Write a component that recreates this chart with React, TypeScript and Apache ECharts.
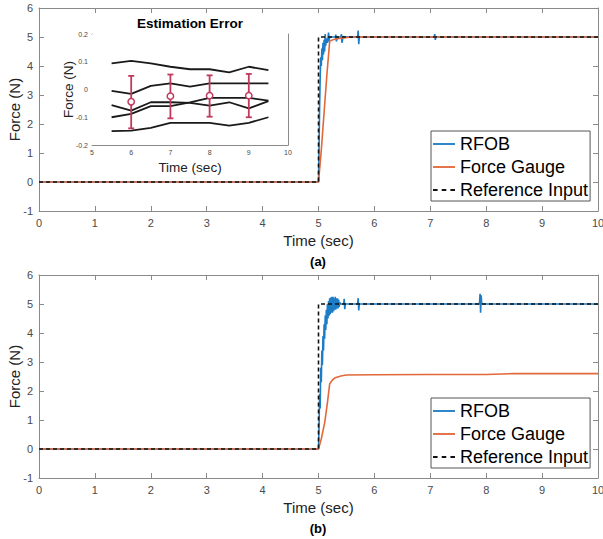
import React, { useEffect, useRef } from "react";
import * as echarts from "echarts";

// ---------- data (time in seconds, force in newtons) ----------
const referenceInput: [number, number][] = [
  [0, 0], [5, 0], [5, 5], [10, 5],
];

const rfobA: [number, number][] = [
  [0, 0], [5.0, 0], [5.01, 1.2], [5.02, 2.6], [5.03, 3.6], [5.04, 4.3], [5.05, 4.0],
  [5.06, 4.6], [5.07, 4.2], [5.08, 4.8], [5.09, 4.4], [5.1, 4.9], [5.11, 4.5],
  [5.12, 5.1], [5.13, 4.7], [5.14, 4.95], [5.16, 4.8], [5.18, 5.15], [5.19, 4.85],
  [5.2, 5.0], [5.3, 5.0], [5.31, 5.08], [5.32, 4.85], [5.34, 5.0], [5.4, 5.0],
  [5.41, 5.1], [5.42, 4.8], [5.44, 5.02], [5.46, 5.0], [5.7, 5.0], [5.71, 5.22],
  [5.72, 4.75], [5.73, 5.0], [7.07, 5.0], [7.08, 5.1], [7.09, 4.9], [7.1, 5.0], [10, 5.0],
];

const gaugeA: [number, number][] = [
  [0, 0], [5.0, 0], [5.05, 1.1], [5.1, 2.4], [5.15, 3.7], [5.2, 4.85], [5.25, 4.9],
  [5.3, 4.93], [5.4, 4.96], [5.6, 5.0], [10, 5.0],
];

const rfobB: [number, number][] = [
  [0, 0], [5.0, 0], [5.01, 0.8], [5.02, 1.9], [5.03, 1.4], [5.04, 2.8], [5.05, 2.3],
  [5.06, 3.4], [5.07, 2.9], [5.08, 3.9], [5.09, 3.4], [5.1, 4.3], [5.11, 3.8],
  [5.12, 4.6], [5.13, 4.1], [5.14, 4.8], [5.15, 4.3], [5.16, 5.0], [5.17, 4.5],
  [5.18, 5.1], [5.19, 4.6], [5.2, 5.2], [5.21, 4.65], [5.22, 5.22], [5.23, 4.7],
  [5.24, 5.25], [5.25, 4.7], [5.26, 5.25], [5.27, 4.75], [5.28, 5.2], [5.29, 4.8],
  [5.3, 5.25], [5.31, 4.8], [5.32, 5.2], [5.33, 4.85], [5.34, 5.2], [5.35, 4.85],
  [5.36, 5.15], [5.37, 4.9], [5.38, 5.05], [5.4, 5.0], [5.45, 5.0], [5.46, 5.18],
  [5.47, 4.82], [5.48, 5.0], [5.7, 5.0], [5.71, 5.2], [5.72, 4.78], [5.73, 5.0],
  [7.88, 5.0], [7.89, 5.35], [7.9, 4.7], [7.91, 5.3], [7.92, 5.0], [10, 5.0],
];

const gaugeB: [number, number][] = [
  [0, 0], [5.0, 0], [5.05, 0.35], [5.11, 0.9], [5.16, 1.6], [5.2, 2.25], [5.25, 2.38],
  [5.3, 2.46], [5.4, 2.52], [5.5, 2.55], [6, 2.56], [7, 2.57], [8, 2.57], [8.5, 2.6],
  [9, 2.6], [10, 2.6],
];

// inset: estimation error
const insetTime = [5.5, 6, 6.5, 7, 7.5, 8, 8.5, 9, 9.5];
const trial1 = [0.094, 0.103, 0.094, 0.082, 0.073, 0.073, 0.062, 0.082, 0.07];
const trial2 = [-0.005, -0.016, 0.013, 0.022, 0.01, 0.022, 0.022, 0.022, 0.022];
const trial3 = [-0.056, -0.076, -0.046, -0.046, -0.048, -0.058, -0.046, -0.068, -0.042];
const trial4 = [-0.1, -0.088, -0.06, -0.06, -0.046, -0.03, -0.03, -0.03, -0.04];
const trial5 = [-0.15, -0.148, -0.138, -0.12, -0.12, -0.12, -0.13, -0.12, -0.1];

const errTime = [6, 7, 8, 9];
const errMean = [-0.044, -0.024, -0.022, -0.022];
const errLow = [-0.14, -0.104, -0.098, -0.1];
const errHigh = [0.049, 0.054, 0.051, 0.056];

const xTicksMain = { min: 0, max: 10, interval: 1 };
const yTicksMain = { min: -1, max: 6, interval: 1 };
const xTicksInset = { min: 5, max: 10, interval: 1 };
const yTicksInset = { min: -0.2, max: 0.2, interval: 0.1 };

const legendNames = ["RFOB", "Force Gauge", "Reference Input"];

// ---------- styling ----------
const FONT = '"Liberation Sans", Arial, Helvetica, sans-serif';
const BLUE = "#1c7cc6";
const ORANGE = "#e2683a";
const BLACK = "#111";
const RED = "#c03a5c";
const AXIS = "#8a8a8a";
const LABEL = "#4a4a4a";

const SOLID_ICON = "path://M0 0H24V2H0Z";
const DASH_ICON = "path://M0 0H5V2H0Z M9.5 0H14.5V2H9.5Z M19 0H24V2H19Z";

function mainAxes(grid: number) {
  const common = {
    gridIndex: grid,
    axisLine: { show: true, onZero: false, lineStyle: { color: AXIS, width: 1 } },
    axisTick: { show: true, inside: true, length: 5, lineStyle: { color: AXIS } },
    splitLine: { show: false },
  };
  const x = [
    {
      ...common, type: "value", position: "bottom", ...xTicksMain,
      axisLabel: { color: LABEL, fontSize: 11, fontFamily: FONT, margin: 6 },
      name: "Time (sec)", nameLocation: "middle", nameGap: 22, nameMoveOverlap: false,
      nameTextStyle: { color: "#222", fontSize: 15, fontFamily: FONT },
    },
    { ...common, type: "value", position: "top", ...xTicksMain, axisLabel: { show: false } },
  ];
  const y = [
    {
      ...common, type: "value", position: "left", ...yTicksMain,
      axisLabel: { color: LABEL, fontSize: 11, fontFamily: FONT, margin: 6 },
      name: "Force (N)", nameLocation: "middle", nameGap: 17, nameMoveOverlap: false,
      nameTextStyle: { color: "#222", fontSize: 15, fontFamily: FONT },
    },
    { ...common, type: "value", position: "right", ...yTicksMain, axisLabel: { show: false } },
  ];
  return { x, y };
}

function insetAxes(grid: number) {
  const common = {
    gridIndex: grid,
    axisLine: { show: true, onZero: false, lineStyle: { color: AXIS, width: 1 } },
    axisTick: { show: true, inside: true, length: 3, lineStyle: { color: AXIS } },
    splitLine: { show: false },
  };
  const x = [
    {
      ...common, type: "value", position: "bottom", ...xTicksInset,
      axisLabel: { color: LABEL, fontSize: 7, fontFamily: FONT, margin: 4 },
      name: "Time (sec)", nameLocation: "middle", nameGap: 15, nameMoveOverlap: false,
      nameTextStyle: { color: "#222", fontSize: 13.5, fontFamily: FONT },
    },
    { ...common, type: "value", position: "top", ...xTicksInset, axisLabel: { show: false } },
  ];
  const y = [
    {
      ...common, type: "value", position: "left", ...yTicksInset,
      axisLabel: {
        color: LABEL, fontSize: 7, fontFamily: FONT, margin: 4,
        formatter: (v: number) => String(Math.round(v * 10) / 10),
      },
      name: "Force (N)", nameLocation: "middle", nameGap: 17, nameMoveOverlap: false,
      nameTextStyle: { color: "#222", fontSize: 13.5, fontFamily: FONT },
    },
    { ...common, type: "value", position: "right", ...yTicksInset, axisLabel: { show: false } },
  ];
  return { x, y };
}

function lineSeries(name: string, data: [number, number][], axis: number, color: string, dashed = false) {
  return {
    type: "line", name, data, xAxisIndex: axis, yAxisIndex: axis,
    symbol: "none", showSymbol: false,
    lineStyle: { color, width: 1.6, type: dashed ? [4, 3] : "solid" },
    itemStyle: { color },
    z: dashed ? 4 : 3,
  };
}

function legendAt(top: number) {
  const icons = [SOLID_ICON, SOLID_ICON, DASH_ICON];
  const colors = [BLUE, ORANGE, BLACK];
  return {
    data: legendNames.map((n, i) => ({ name: n, icon: icons[i], itemStyle: { color: colors[i], borderWidth: 0 } })),
    orient: "vertical", left: 431, top,
    backgroundColor: "#fff", borderColor: "#555", borderWidth: 1,
    padding: [4, 2, 2, 2], itemGap: 5, itemWidth: 22, itemHeight: 2,
    textStyle: { fontSize: 18, color: "#000", fontFamily: FONT },
    selectedMode: false, z: 10,
  };
}

export default function App() {
  const ref = useRef<HTMLDivElement>(null);
  useEffect(() => {
    if (!ref.current) return;
    const chart = echarts.init(ref.current, undefined, { renderer: "svg" });
    const a = mainAxes(0);
    const b = mainAxes(1);
    const c = insetAxes(2);
    const insetLines = [trial1, trial2, trial3, trial4, trial5].map((vals, i) => ({
      type: "line", name: "trial" + (i + 1),
      data: insetTime.map((t, k) => [t, vals[k]]),
      xAxisIndex: 4, yAxisIndex: 4, symbol: "none",
      lineStyle: { color: "#1a1a1a", width: 1.8 }, z: 5,
    }));
    const errData = errTime.map((t, k) => [t, errMean[k], errLow[k], errHigh[k]]);
    chart.setOption({
      animation: false,
      backgroundColor: "#fff",
      textStyle: { fontFamily: FONT },
      grid: [
        { left: 39, top: 8, width: 559, height: 203, containLabel: false, outerBoundsMode: "none" },
        { left: 39, top: 275, width: 559, height: 203, containLabel: false, outerBoundsMode: "none" },
        { left: 92, top: 34, width: 196, height: 111, show: true, backgroundColor: "#fff", borderWidth: 0, z: 3, outerBoundsMode: "none" },
      ],
      xAxis: [...a.x, ...b.x, ...c.x],
      yAxis: [...a.y, ...b.y, ...c.y],
      legend: [legendAt(131), legendAt(398)],
      series: [
        lineSeries("RFOB", rfobA, 0, BLUE),
        lineSeries("Force Gauge", gaugeA, 0, ORANGE),
        lineSeries("Reference Input", referenceInput, 0, BLACK, true),
        { ...lineSeries("RFOB", rfobB, 2, BLUE), yAxisIndex: 2 },
        { ...lineSeries("Force Gauge", gaugeB, 2, ORANGE), yAxisIndex: 2 },
        { ...lineSeries("Reference Input", referenceInput, 2, BLACK, true), yAxisIndex: 2 },
        ...insetLines,
        {
          type: "custom", name: "error", xAxisIndex: 4, yAxisIndex: 4, z: 6,
          data: errData, encode: { x: 0, y: [1, 2, 3] },
          renderItem: (_p: any, api: any) => {
            const x = api.value(0);
            const m = api.coord([x, api.value(1)]);
            const lo = api.coord([x, api.value(2)]);
            const hi = api.coord([x, api.value(3)]);
            const st = { stroke: RED, lineWidth: 1.8, fill: "none" };
            const cap = 3;
            return {
              type: "group",
              children: [
                { type: "line", shape: { x1: hi[0], y1: hi[1], x2: lo[0], y2: lo[1] }, style: st },
                { type: "line", shape: { x1: hi[0] - cap, y1: hi[1], x2: hi[0] + cap, y2: hi[1] }, style: st },
                { type: "line", shape: { x1: lo[0] - cap, y1: lo[1], x2: lo[0] + cap, y2: lo[1] }, style: st },
                { type: "circle", shape: { cx: m[0], cy: m[1], r: 3.2 }, style: { stroke: RED, lineWidth: 1.5, fill: "#fff" } },
              ],
            };
          },
        },
      ],
      graphic: [
        {
          type: "text", x: 190, y: 23,
          style: { text: "Estimation Error", fontSize: 13.5, fontWeight: "bold", fontFamily: FONT, fill: "#000", align: "center", verticalAlign: "middle" },
        },
        {
          type: "text", x: 318, y: 261,
          style: { text: "(a)", fontSize: 13, fontWeight: "bold", fontFamily: FONT, fill: "#000", align: "center", verticalAlign: "middle" },
        },
        {
          type: "text", x: 318, y: 528,
          style: { text: "(b)", fontSize: 13, fontWeight: "bold", fontFamily: FONT, fill: "#000", align: "center", verticalAlign: "middle" },
        },
      ],
    });
    return () => chart.dispose();
  }, []);
  return (
    <div
      ref={ref}
      style={{ position: "fixed", left: 0, top: 0, width: 603, height: 539, background: "#fff" }}
    />
  );
}
